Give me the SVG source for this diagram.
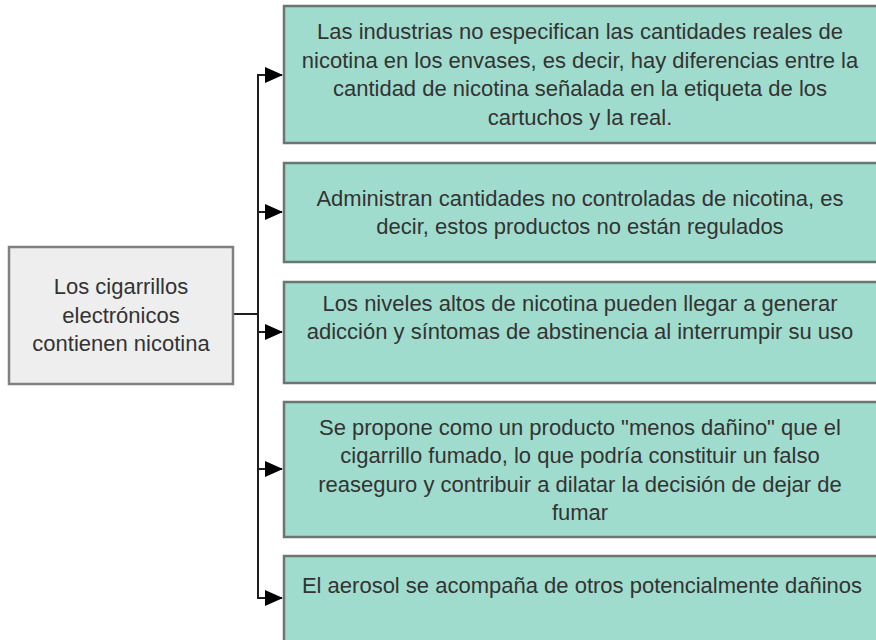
<svg xmlns="http://www.w3.org/2000/svg" width="876" height="640" viewBox="0 0 876 640">
<defs>
<style>
.src rect{fill:#eeeeee;stroke:#808080;stroke-width:2.5}
.box rect{fill:#a0dccd;stroke:#6b7572;stroke-width:2.5}
text{font-family:"Liberation Sans",Arial,sans-serif;font-size:22px;fill:#333333;text-anchor:middle}
.edge{fill:none;stroke:#1e1e1e;stroke-width:2}
</style>
<marker id="arr" viewBox="0 0 18 16" refX="17" refY="8" markerWidth="18" markerHeight="16" markerUnits="userSpaceOnUse" orient="auto">
<path d="M0,0 L18,8 L0,16 Z" fill="#000"/>
</marker>
</defs>
<rect width="876" height="640" fill="#ffffff"/>
<g id="connectors">
<path class="edge" d="M233,314 H258 V75 H282" marker-end="url(#arr)"/>
<path class="edge" d="M233,314 H258 V212 H282" marker-end="url(#arr)"/>
<path class="edge" d="M233,314 H258 V332 H282" marker-end="url(#arr)"/>
<path class="edge" d="M233,314 H258 V469 H282" marker-end="url(#arr)"/>
<path class="edge" d="M233,314 H258 V598 H282" marker-end="url(#arr)"/>
</g>
<g id="source" class="src">
<rect x="9" y="247" width="224" height="137"/>
<text x="121" y="294">Los cigarrillos</text>
<text x="121" y="322.5">electrónicos</text>
<text x="121" y="351">contienen nicotina</text>
</g>
<g id="n1" class="box">
<rect x="284" y="6" width="600" height="137"/>
<text x="580" y="39">Las industrias no especifican las cantidades reales de</text>
<text x="580" y="67.5">nicotina en los envases, es decir, hay diferencias entre la</text>
<text x="580" y="96">cantidad de nicotina señalada en la etiqueta de los</text>
<text x="580" y="124.5">cartuchos y la real.</text>
</g>
<g id="n2" class="box">
<rect x="284" y="163" width="600" height="99"/>
<text x="580" y="205.5">Administran cantidades no controladas de nicotina, es</text>
<text x="580" y="234">decir, estos productos no están regulados</text>
</g>
<g id="n3" class="box">
<rect x="284" y="282" width="600" height="101"/>
<text x="580" y="310.5">Los niveles altos de nicotina pueden llegar a generar</text>
<text x="580" y="339">adicción y síntomas de abstinencia al interrumpir su uso</text>
</g>
<g id="n4" class="box">
<rect x="284" y="402" width="600" height="135"/>
<text x="580" y="434.5">Se propone como un producto "menos dañino" que el</text>
<text x="580" y="463">cigarrillo fumado, lo que podría constituir un falso</text>
<text x="580" y="491.5">reaseguro y contribuir a dilatar la decisión de dejar de</text>
<text x="580" y="520">fumar</text>
</g>
<g id="n5" class="box">
<rect x="284" y="556" width="600" height="100"/>
<text x="582" y="593">El aerosol se acompaña de otros potencialmente dañinos</text>
</g>
</svg>
